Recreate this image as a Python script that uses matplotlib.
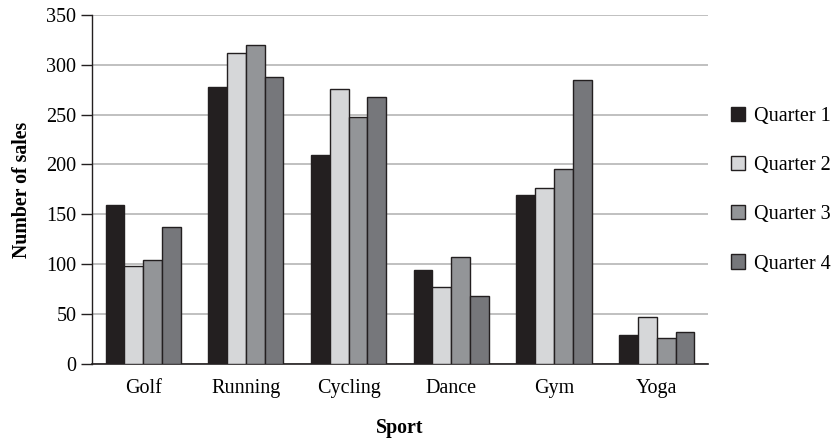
import matplotlib
matplotlib.use("Agg")
import matplotlib.pyplot as plt
import numpy as np

sports = ["Golf", "Running", "Cycling", "Dance", "Gym", "Yoga"]
quarters = ["Quarter 1", "Quarter 2", "Quarter 3", "Quarter 4"]
q1 = [159, 278, 209, 94, 169, 29]
q2 = [98, 312, 276, 77, 176, 47]
q3 = [104, 320, 248, 107, 195, 26]
q4 = [137, 288, 268, 68, 285, 32]
yticks = [0, 50, 100, 150, 200, 250, 300, 350]

series = [q1, q2, q3, q4]
colors = ["#231f20", "#d6d7d9", "#939598", "#76777b"]

plt.rcParams["font.family"] = ["Liberation Serif", "DejaVu Serif"]

fig = plt.figure(figsize=(8.34, 4.42), dpi=100)
ax = fig.add_axes([0.110, 0.1765, 0.739, 0.79])

x = np.arange(len(sports))
bw = 0.183
for i, (vals, c, lab) in enumerate(zip(series, colors, quarters)):
    ax.bar(x + (i - 1.5) * bw, vals, width=bw, color=c, edgecolor="#231f20",
           linewidth=1.0, label=lab, zorder=3)

ax.set_xlim(-0.5, len(sports) - 0.5)
ax.set_ylim(0, 350)
ax.set_yticks(yticks)
ax.set_xticks(x)
ax.set_xticklabels(sports, fontsize=14.5)
ax.tick_params(axis="y", labelsize=14.5, length=8, width=1, color="#231f20", direction="out", pad=3)
ax.tick_params(axis="x", length=0, pad=11)
ax.yaxis.grid(True, color="#b5b5b5", linewidth=1.2, zorder=0)
ax.set_axisbelow(True)
for s in ["top", "right"]:
    ax.spines[s].set_visible(False)
ax.spines["left"].set_color("#231f20")
ax.spines["bottom"].set_color("#231f20")
ax.spines["left"].set_linewidth(1.0)
ax.spines["bottom"].set_linewidth(1.2)

ax.set_ylabel("Number of sales", fontsize=14.3, fontweight="bold", labelpad=10)
ax.set_xlabel("Sport", fontsize=14.3, fontweight="bold", labelpad=14)

leg = ax.legend(loc="center left", bbox_to_anchor=(0.876, 0.570),
                bbox_transform=fig.transFigure, frameon=False,
                fontsize=14.5, handlelength=0.7, handleheight=0.7,
                labelspacing=1.5, handletextpad=0.45, borderpad=0, borderaxespad=0)

fig.savefig("out.png", dpi=100)
